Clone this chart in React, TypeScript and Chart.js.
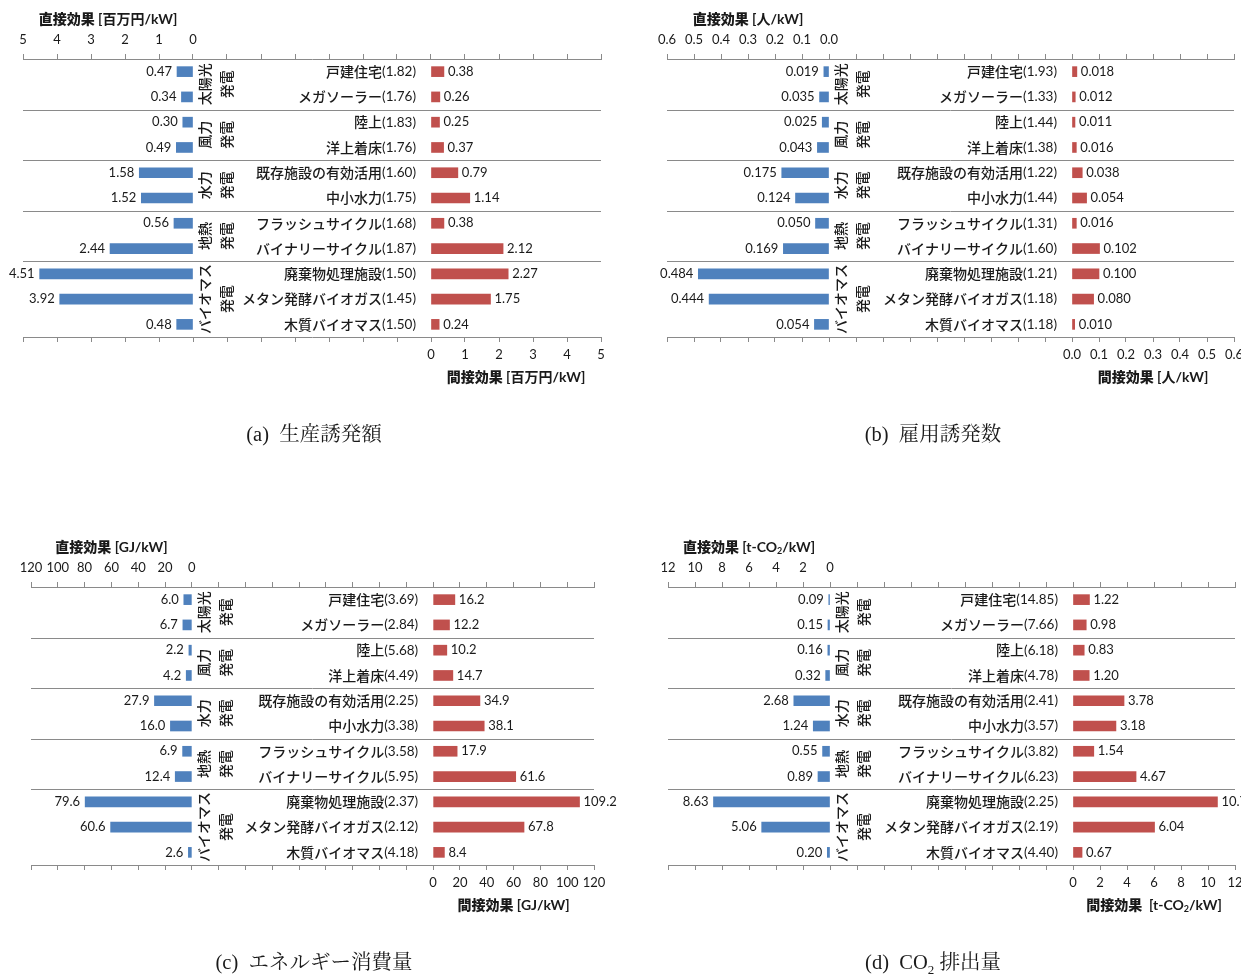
import React, { useEffect, useRef } from "react";
import { Chart, registerables } from "chart.js";

Chart.register(...registerables);

// Rows, top to bottom
const plantNames = [
  "戸建住宅",
  "メガソーラー",
  "陸上",
  "洋上着床",
  "既存施設の有効活用",
  "中小水力",
  "フラッシュサイクル",
  "バイナリーサイクル",
  "廃棄物処理施設",
  "メタン発酵バイオガス",
  "木質バイオマス",
];

// Power-source groups: label lines (rotated) and their first / last row
const groupLines = [
  ["太陽光", "発電"],
  ["風力", "発電"],
  ["水力", "発電"],
  ["地熱", "発電"],
  ["バイオマス", "発電"],
];
const groupFirstRow = [0, 2, 4, 6, 8];
const groupLastRow = [1, 3, 5, 7, 10];

// (a) 生産誘発額 [百万円/kW]
const productionRatio = [1.82, 1.76, 1.83, 1.76, 1.6, 1.75, 1.68, 1.87, 1.5, 1.45, 1.5];
const productionDirect = [0.47, 0.34, 0.3, 0.49, 1.58, 1.52, 0.56, 2.44, 4.51, 3.92, 0.48];
const productionIndirect = [0.38, 0.26, 0.25, 0.37, 0.79, 1.14, 0.38, 2.12, 2.27, 1.75, 0.24];

// (b) 雇用誘発数 [人/kW]
const employmentRatio = [1.93, 1.33, 1.44, 1.38, 1.22, 1.44, 1.31, 1.6, 1.21, 1.18, 1.18];
const employmentDirect = [0.019, 0.035, 0.025, 0.043, 0.175, 0.124, 0.05, 0.169, 0.484, 0.444, 0.054];
const employmentIndirect = [0.018, 0.012, 0.011, 0.016, 0.038, 0.054, 0.016, 0.102, 0.1, 0.08, 0.01];

// (c) エネルギー消費量 [GJ/kW]
const energyRatio = [3.69, 2.84, 5.68, 4.49, 2.25, 3.38, 3.58, 5.95, 2.37, 2.12, 4.18];
const energyDirect = [6.0, 6.7, 2.2, 4.2, 27.9, 16.0, 6.9, 12.4, 79.6, 60.6, 2.6];
const energyIndirect = [16.2, 12.2, 10.2, 14.7, 34.9, 38.1, 17.9, 61.6, 109.2, 67.8, 8.4];

// (d) CO2排出量 [t-CO2/kW]
const co2Ratio = [14.85, 7.66, 6.18, 4.78, 2.41, 3.57, 3.82, 6.23, 2.25, 2.19, 4.4];
const co2Direct = [0.09, 0.15, 0.16, 0.32, 2.68, 1.24, 0.55, 0.89, 8.63, 5.06, 0.2];
const co2Indirect = [1.22, 0.98, 0.83, 1.2, 3.78, 3.18, 1.54, 4.67, 10.7, 6.04, 0.67];

// Axis ranges [min, max, step]: only 0..max is labelled, the rest carries tick marks
const productionAxis = [-12, 5, 1];
const employmentAxis = [-1.5, 0.6, 0.1];
const energyAxis = [-300, 120, 20];
const co2Axis = [-30, 12, 2];

const BLUE = "#4F81BD";
const RED = "#C0504D";
const LINE = "#8a8a8a";
const TEXT = "#1a1a1a";
const NUM_FONT = `Lato, "Noto Sans CJK JP", sans-serif`;
const JP_FONT = `"Noto Sans CJK JP", sans-serif`;
const SERIF_FONT = `"Liberation Serif", "Noto Serif CJK JP", "Noto Sans CJK JP", serif`;

type Run = { text: string; sub?: boolean; weight?: string; family?: string };

type PanelSpec = {
  ratio: number[];
  direct: number[];
  indirect: number[];
  valueDigits: number;
  axis: number[];
  tickDigits: number;
  directTitle: Run[];
  indirectTitle: Run[];
  caption: Run[];
  left: number;
  top: number;
  width: number;
  height: number;
  padLeft: number;
  padRight: number;
  captionX: number;
};

function drawRuns(
  ctx: CanvasRenderingContext2D,
  runs: Run[],
  x: number,
  y: number,
  size: number,
  family: string,
  weight: string,
  align: "left" | "center" | "right"
) {
  const subSize = Math.round(size * 0.62);
  const fontFor = (r: Run) =>
    `${r.weight || weight} ${r.sub ? subSize : size}px ${r.family || family}`;
  let total = 0;
  for (const r of runs) {
    ctx.font = fontFor(r);
    total += ctx.measureText(r.text).width;
  }
  let cx = align === "left" ? x : align === "center" ? x - total / 2 : x - total;
  ctx.textAlign = "left";
  ctx.textBaseline = "middle";
  for (const r of runs) {
    ctx.font = fontFor(r);
    ctx.fillText(r.text, cx, r.sub ? y + size * 0.32 : y);
    cx += ctx.measureText(r.text).width;
  }
}

function decorPlugin(spec: PanelSpec) {
  return {
    id: "panelDecor",
    afterDatasetsDraw(chart: any) {
      const ctx: CanvasRenderingContext2D = chart.ctx;
      const area = chart.chartArea;
      const yScale = chart.scales.y;
      const topScale = chart.scales.xTop;
      const bottomScale = chart.scales.xBottom;
      const axisMax = spec.axis[1];
      ctx.save();

      // group separators
      ctx.strokeStyle = LINE;
      ctx.lineWidth = 1;
      for (let g = 0; g < groupLastRow.length - 1; g++) {
        const r = groupLastRow[g];
        const py = Math.round((yScale.getPixelForValue(r) + yScale.getPixelForValue(r + 1)) / 2) + 0.5;
        ctx.beginPath();
        ctx.moveTo(area.left, py);
        ctx.lineTo(area.right, py);
        ctx.stroke();
      }

      ctx.fillStyle = TEXT;

      // rotated group names
      const zeroTop = topScale.getPixelForValue(0);
      groupLines.forEach((lines, g) => {
        const cy = (yScale.getPixelForValue(groupFirstRow[g]) + yScale.getPixelForValue(groupLastRow[g])) / 2;
        lines.forEach((line, k) => {
          ctx.save();
          ctx.translate(zeroTop + 11 + k * 22, cy);
          ctx.rotate(-Math.PI / 2);
          ctx.font = `500 14px ${JP_FONT}`;
          ctx.textAlign = "center";
          ctx.textBaseline = "middle";
          ctx.fillText(line, 0, 1);
          ctx.restore();
        });
      });

      // row names with multiplier
      const zeroBottom = bottomScale.getPixelForValue(0);
      ctx.textBaseline = "middle";
      plantNames.forEach((name, i) => {
        const py = yScale.getPixelForValue(i);
        const tail = `(${spec.ratio[i].toFixed(2)})`;
        ctx.font = `13.5px ${NUM_FONT}`;
        const tw = ctx.measureText(tail).width;
        ctx.textAlign = "right";
        ctx.fillText(tail, zeroBottom - 15, py);
        ctx.font = `500 14px ${JP_FONT}`;
        ctx.fillText(name, zeroBottom - 15 - tw, py);
      });

      // value labels
      ctx.font = `13px ${NUM_FONT}`;
      const metaDirect = chart.getDatasetMeta(0);
      const metaIndirect = chart.getDatasetMeta(1);
      metaDirect.data.forEach((bar: any, i: number) => {
        ctx.textAlign = "right";
        ctx.fillText(spec.direct[i].toFixed(spec.valueDigits), bar.x - 5, bar.y);
      });
      metaIndirect.data.forEach((bar: any, i: number) => {
        ctx.textAlign = "left";
        ctx.fillText(spec.indirect[i].toFixed(spec.valueDigits), bar.x + 4, bar.y);
      });

      // axis titles
      const topCenter = (topScale.getPixelForValue(0) + topScale.getPixelForValue(axisMax)) / 2;
      drawRuns(ctx, spec.directTitle, topCenter, area.top - 40, 14, NUM_FONT, "bold", "center");
      const bottomCenter = (bottomScale.getPixelForValue(0) + bottomScale.getPixelForValue(axisMax)) / 2;
      drawRuns(ctx, spec.indirectTitle, bottomCenter, area.bottom + 40, 14, NUM_FONT, "bold", "center");

      // caption
      drawRuns(ctx, spec.caption, spec.captionX, area.bottom + 99, 20.5, SERIF_FONT, "normal", "center");

      ctx.restore();
    },
  };
}

function Panel({ spec }: { spec: PanelSpec }) {
  const ref = useRef<HTMLCanvasElement | null>(null);

  useEffect(() => {
    if (!ref.current) return;
    const [min, max, step] = spec.axis;
    const tickLabel = (v: any) => {
      const n = Number(v);
      return n < -1e-9 ? "" : n.toFixed(spec.tickDigits);
    };
    const fitAxis = (scale: any) => {
      scale.height = 25;
      scale.paddingLeft = 0;
      scale.paddingRight = 0;
    };
    const axisBase = {
      type: "linear" as const,
      min,
      max,
      grid: { drawOnChartArea: false, drawTicks: true, tickLength: 5, color: LINE },
      border: { display: true, color: LINE },
      afterFit: fitAxis,
    };
    const tickBase = {
      stepSize: step,
      autoSkip: false,
      maxRotation: 0,
      minRotation: 0,
      color: TEXT,
      font: { family: NUM_FONT, size: 13 },
      callback: tickLabel,
    };

    const chart = new Chart(ref.current, {
      type: "bar",
      data: {
        labels: plantNames,
        datasets: [
          {
            label: "直接効果",
            data: spec.direct,
            xAxisID: "xTop",
            backgroundColor: BLUE,
            barThickness: 10,
            grouped: false,
          } as any,
          {
            label: "間接効果",
            data: spec.indirect,
            xAxisID: "xBottom",
            backgroundColor: RED,
            barThickness: 10,
            grouped: false,
          } as any,
        ],
      },
      options: {
        indexAxis: "y",
        animation: false,
        responsive: false,
        maintainAspectRatio: false,
        devicePixelRatio: 1,
        layout: {
          padding: {
            left: spec.padLeft,
            right: spec.padRight,
            top: 34,
            bottom: spec.height - 362,
          },
        },
        plugins: {
          legend: { display: false },
          tooltip: { enabled: false },
        },
        scales: {
          y: { type: "category", display: false, offset: true },
          xTop: {
            ...axisBase,
            position: "top",
            reverse: true,
            ticks: { ...tickBase, padding: 6 },
          },
          xBottom: {
            ...axisBase,
            position: "bottom",
            reverse: false,
            ticks: { ...tickBase, padding: 5 },
          },
        } as any,
      },
      plugins: [decorPlugin(spec)],
    });
    return () => chart.destroy();
  }, [spec]);

  return (
    <canvas
      ref={ref}
      width={spec.width}
      height={spec.height}
      style={{
        position: "absolute",
        left: spec.left,
        top: spec.top,
        width: spec.width,
        height: spec.height,
      }}
    />
  );
}

const heavy = { weight: "900", family: JP_FONT };

const panels: PanelSpec[] = [
  {
    ratio: productionRatio,
    direct: productionDirect,
    indirect: productionIndirect,
    valueDigits: 2,
    axis: productionAxis,
    tickDigits: 0,
    directTitle: [{ text: "直接効果", ...heavy }, { text: " [百万円/kW]" }],
    indirectTitle: [{ text: "間接効果", ...heavy }, { text: " [百万円/kW]" }],
    caption: [{ text: "(a)\u2002生産誘発額" }],
    left: 0,
    top: 0,
    width: 620,
    height: 460,
    padLeft: 23,
    padRight: 19,
    captionX: 314,
  },
  {
    ratio: employmentRatio,
    direct: employmentDirect,
    indirect: employmentIndirect,
    valueDigits: 3,
    axis: employmentAxis,
    tickDigits: 1,
    directTitle: [{ text: "直接効果", ...heavy }, { text: " [人/kW]" }],
    indirectTitle: [{ text: "間接効果", ...heavy }, { text: " [人/kW]" }],
    caption: [{ text: "(b)\u2002雇用誘発数" }],
    left: 640,
    top: 0,
    width: 601,
    height: 460,
    padLeft: 27,
    padRight: 7,
    captionX: 293,
  },
  {
    ratio: energyRatio,
    direct: energyDirect,
    indirect: energyIndirect,
    valueDigits: 1,
    axis: energyAxis,
    tickDigits: 0,
    directTitle: [{ text: "直接効果", ...heavy }, { text: " [GJ/kW]" }],
    indirectTitle: [{ text: "間接効果", ...heavy }, { text: " [GJ/kW]" }],
    caption: [{ text: "(c)\u2002エネルギー消費量" }],
    left: 0,
    top: 528,
    width: 620,
    height: 450,
    padLeft: 31,
    padRight: 26,
    captionX: 314,
  },
  {
    ratio: co2Ratio,
    direct: co2Direct,
    indirect: co2Indirect,
    valueDigits: 2,
    axis: co2Axis,
    tickDigits: 0,
    directTitle: [
      { text: "直接効果", ...heavy },
      { text: " [t-CO" },
      { text: "2", sub: true },
      { text: "/kW]" },
    ],
    indirectTitle: [
      { text: "間接効果", ...heavy },
      { text: "  [t-CO" },
      { text: "2", sub: true },
      { text: "/kW]" },
    ],
    caption: [{ text: "(d)\u2002CO" }, { text: "2", sub: true }, { text: " 排出量" }],
    left: 640,
    top: 528,
    width: 601,
    height: 450,
    padLeft: 28,
    padRight: 6,
    captionX: 293,
  },
];

export default function App() {
  return (
    <div
      style={{
        position: "absolute",
        left: 0,
        top: 0,
        width: 1241,
        height: 978,
        background: "#ffffff",
        overflow: "hidden",
      }}
    >
      {panels.map((p, i) => (
        <Panel key={i} spec={p} />
      ))}
    </div>
  );
}
